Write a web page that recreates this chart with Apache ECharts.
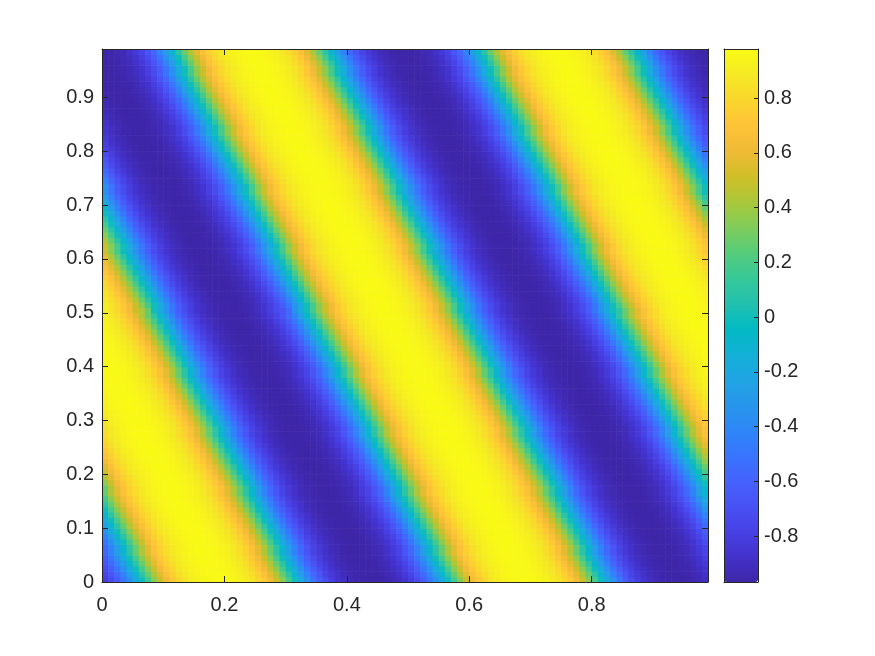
<!DOCTYPE html>
<html>
<head>
<meta charset="utf-8">
<title>Field</title>
<script src="https://cdn.jsdelivr.net/npm/echarts@6/dist/echarts.min.js"></script>
<style>
  html, body { margin: 0; padding: 0; background: #fff; }
  #chart { width: 875px; height: 656px; }
</style>
</head>
<body>
<div id="chart"></div>
<script>
// one period (x = 0 .. 0.495, step 0.005) of the field along the bottom row y = 0
const profile = [
  -0.80, -0.77, -0.72, -0.68, -0.63, -0.57, -0.50, -0.43, -0.35, -0.27,
  -0.18, -0.09, 0.00, 0.09, 0.18, 0.27, 0.35, 0.43, 0.50, 0.57,
  0.63, 0.68, 0.72, 0.77, 0.80, 0.83, 0.86, 0.88, 0.90, 0.92,
  0.93, 0.94, 0.95, 0.96, 0.96, 0.97, 0.97, 0.97, 0.97, 0.97,
  0.96, 0.96, 0.95, 0.94, 0.93, 0.92, 0.90, 0.88, 0.86, 0.83,
  0.80, 0.77, 0.72, 0.68, 0.63, 0.57, 0.50, 0.43, 0.35, 0.27,
  0.18, 0.09, 0.00, -0.09, -0.18, -0.27, -0.35, -0.43, -0.50, -0.57,
  -0.63, -0.68, -0.72, -0.77, -0.80, -0.83, -0.86, -0.88, -0.90, -0.92,
  -0.93, -0.94, -0.95, -0.96, -0.96, -0.97, -0.97, -0.97, -0.97, -0.97,
  -0.96, -0.96, -0.95, -0.94, -0.93, -0.92, -0.90, -0.88, -0.86, -0.83
];
const profileStep = 0.005;
// stripes move left by this much in x for every unit of y
const drift = 0.455;
const cellSize = 0.01;
const nCols = 99;
const nRows = 99;
const axisMax = 0.99;
const colorRange = [-0.968, 0.979];

// parula
const parula = [
  '#3E26A8', '#4332CB', '#4741E5', '#4852F4', '#4563FD', '#3875FE',
  '#2E87F7', '#2796EB', '#20A5E3', '#12B1D6', '#02BAC3', '#24C1AE',
  '#37C897', '#57CC7A', '#81CC59', '#ABC739', '#D1BF27', '#F0BA36',
  '#FEC338', '#FAD62D', '#F5E924', '#F9FB15'
];

const cells = [];
for (let j = 0; j < nRows; j++) {
  for (let i = 0; i < nCols; i++) {
    const shift = (i * cellSize + j * cellSize * drift) / profileStep;
    const k = Math.round(shift) % profile.length;
    cells.push([+(i * cellSize).toFixed(2), +(j * cellSize).toFixed(2), profile[k]]);
  }
}

const ink = '#262626';
const font = '"Liberation Sans", Arial, Helvetica, sans-serif';

function boxAxis(extra) {
  return Object.assign({
    type: 'value',
    z: 5,
    axisLine: { show: true, onZero: false, lineStyle: { color: ink, width: 1 } },
    axisTick: { show: true, inside: true, length: 6, lineStyle: { color: ink } },
    axisLabel: { show: false },
    splitLine: { show: false }
  }, extra);
}

const label = (margin) => ({
  show: true, margin: margin, color: ink, fontSize: 20, fontFamily: font,
  showMaxLabel: false
});

const chart = echarts.init(document.getElementById('chart'));

chart.setOption({
  animation: false,
  backgroundColor: '#ffffff',
  grid: [
    { left: 102, top: 49, width: 606, height: 533 },
    { left: 724, top: 49, width: 34, height: 533 }
  ],
  xAxis: [
    boxAxis({ gridIndex: 0, position: 'bottom', min: 0, max: axisMax, interval: 0.2, axisLabel: label(13) }),
    boxAxis({ gridIndex: 0, position: 'top', min: 0, max: axisMax, interval: 0.2 }),
    boxAxis({ gridIndex: 1, position: 'bottom', min: 0, max: 1, axisTick: { show: false } }),
    boxAxis({ gridIndex: 1, position: 'top', min: 0, max: 1, axisTick: { show: false } })
  ],
  yAxis: [
    boxAxis({ gridIndex: 0, position: 'left', min: 0, max: axisMax, interval: 0.1, axisLabel: label(8) }),
    boxAxis({ gridIndex: 0, position: 'right', min: 0, max: axisMax, interval: 0.1 }),
    boxAxis({ gridIndex: 1, position: 'left', min: colorRange[0], max: colorRange[1], axisTick: { show: false } }),
    boxAxis({
      gridIndex: 1, position: 'right', min: colorRange[0], max: colorRange[1], splitNumber: 10,
      axisTick: { show: true, inside: true, length: 4, lineStyle: { color: ink } },
      axisLabel: Object.assign(label(6), { showMinLabel: false })
    })
  ],
  visualMap: {
    type: 'continuous',
    min: colorRange[0],
    max: colorRange[1],
    dimension: 2,
    seriesIndex: 0,
    calculable: false,
    hoverLink: false,
    orient: 'vertical',
    left: 724,
    top: 49,
    itemWidth: 34,
    itemHeight: 533,
    padding: 0,
    text: null,
    inRange: { color: parula }
  },
  series: [{
    type: 'custom',
    xAxisIndex: 0,
    yAxisIndex: 0,
    dimensions: ['x', 'y', 'v'],
    encode: { x: 0, y: 1 },
    clip: true,
    silent: true,
    progressive: 0,
    data: cells,
    renderItem: function (params, api) {
      const x = api.value(0);
      const y = api.value(1);
      const a = api.coord([x, y + cellSize]);
      const b = api.coord([x + cellSize, y]);
      return {
        type: 'rect',
        shape: { x: a[0], y: a[1], width: b[0] - a[0] + 0.6, height: b[1] - a[1] + 0.6 },
        style: { fill: api.visual('color') }
      };
    }
  }]
});
</script>
</body>
</html>
